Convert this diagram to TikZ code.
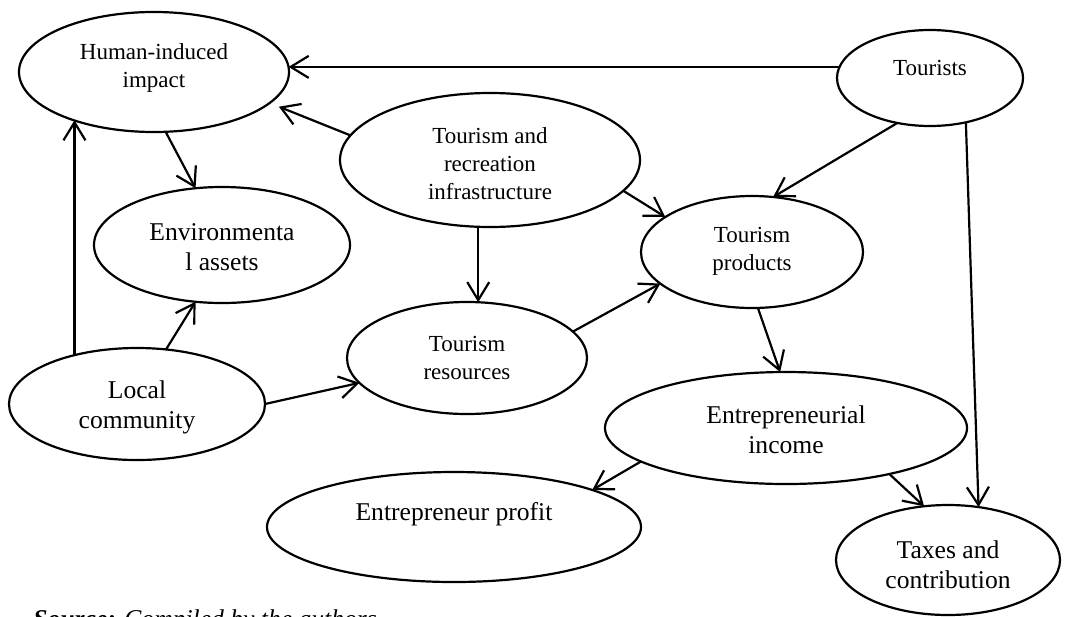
\documentclass[tikz,border=0pt]{standalone}
\usepackage{fontspec}
\setmainfont{Liberation Serif}
\usetikzlibrary{shapes.geometric,arrows.meta}
\tikzset{
  ell/.style 2 args={draw, ellipse, line width=1.1pt, inner sep=0pt, outer sep=0pt,
    minimum width=#1*0.5pt, minimum height=#2*0.5pt},
  bigtxt/.style={align=center, inner sep=0pt, font=\fontsize{12.8pt}{15pt}\selectfont},
  smalltxt/.style={align=center, inner sep=0pt, font=\fontsize{11.5pt}{14pt}\selectfont},
  arr/.style={line width=1.1pt, -{Straight Barb[length=9pt,width=11pt,line width=1.1pt]}}
}
\begin{document}
\begin{tikzpicture}[x=0.5pt,y=-0.5pt]
\useasboundingbox (0,0) rectangle (1079,616);
% ellipses
\node[ell={270}{120}] (hii) at (154,72) {};
\node[ell={256}{116}] (env) at (222,245) {};
\node[ell={300}{134}] (infra) at (490,160) {};
\node[ell={186}{96}] (tour) at (930,78) {};
\node[ell={222}{112}] (prod) at (752,252) {};
\node[ell={240}{112}] (res) at (467,358) {};
\node[ell={256}{112}] (loc) at (137,404) {};
\node[ell={362}{112}] (inc) at (786,428) {};
\node[ell={374}{110}] (prof) at (454,527) {};
\node[ell={224}{110}] (tax) at (948,560) {};
% texts
\node[smalltxt] (hiit) at (154,68) {Human-induced\\impact};
\node[bigtxt] (envt) at (222,247) {Environmenta\\l assets};
\node[smalltxt] (infrat) at (490,164) {Tourism and\\recreation\\infrastructure};
\node[smalltxt] (tourt) at (930,68) {Tourists};
\node[smalltxt] (prodt) at (752,251) {Tourism\\products};
\node[smalltxt] (rest) at (467,358) {Tourism\\resources};
\node[bigtxt] (loct) at (137,407) {Local\\community};
\node[bigtxt] (inct) at (786,430) {Entrepreneurial\\income};
\node[bigtxt] (proft) at (454,514) {Entrepreneur profit};
\node[bigtxt] (taxt) at (948,565) {Taxes and\\contribution};
\node[anchor=base west, inner sep=0pt, font=\fontsize{12.8pt}{15pt}\selectfont] (src) at (33,627)
  {\textbf{\textit{Source:}} \textit{Compiled by the authors}};
% connectors
\draw[arr] (tour.173.3) -- (tour.173.3 -| hii.2);
\draw[arr, shorten >=5pt] (infra.170) -- (hii.-15.5);
\draw[arr] (hii.-79) -- (env.115);
\draw[arr] (loc.142.8) -- (loc.142.8 |- hii.-149.4);
\draw[arr] (loc.62.6) -- (env.-115.5);
\draw[arr] (loc.0.5) -- (res.-167.9);
\draw[arr] (infra.-100) -- (infra.-100 |- res.80);
\draw[arr] (infra.-13.5) -- (prod.158.5);
\draw[arr] (tour.-126.9) -- (prod.69);
\draw[arr] (res.14.5) -- (prod.-161);
\draw[arr] (prod.-84) -- (inc.96);
\draw[arr] (tour.-51.6) -- (tax.60);
\draw[arr] (inc.-167) -- (prof.15.7);
\draw[arr] (inc.-24.2) -- (tax.114);
\end{tikzpicture}
\end{document}
